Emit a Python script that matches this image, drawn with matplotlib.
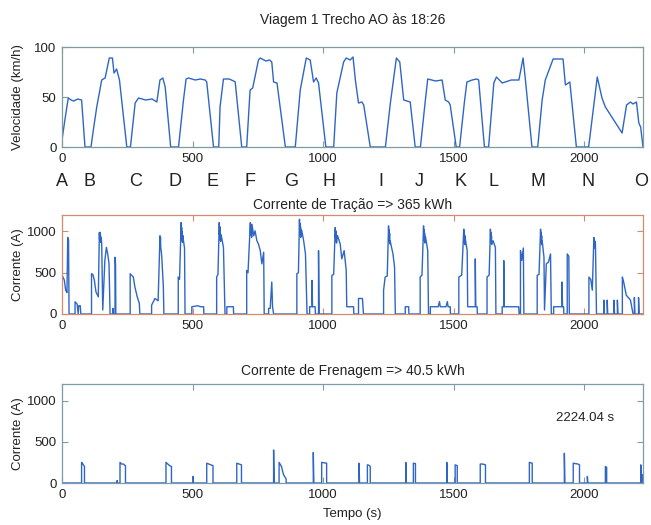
import matplotlib
matplotlib.use("Agg")
import matplotlib.pyplot as plt
import matplotlib.transforms as mtransforms

plt.rcParams['font.family'] = ['Liberation Sans', 'DejaVu Sans']

# ---------------- data ----------------
# speed profile (time s, km/h)
vel_points = [(0,7),(11,27),(24,49),(35,47),(45,46),(60,48),(75,47),(88,0),(111,0),(120,17),(133,40),
    (152,67),(165,69),(181,89),(193,89),(199,74),(209,78),(220,67),(248,0),(262,0),(280,44),(293,49),
    (320,47),(345,48),(363,45),(375,67),(386,69),(395,60),(416,0),(446,0),(465,47),(475,68),(484,69),
    (510,67),(530,68),(548,67),(554,65),(580,0),(600,0),(605,40),(618,68),(640,68),(657,66),(663,65),
    (688,0),(707,0),(720,57),(730,59),(752,87),(759,89),(780,86),(795,87),(803,85),(810,65),(823,64),
    (855,0),(893,0),(912,57),(935,89),(950,87),(963,65),(973,69),(982,64),(1010,0),(1040,0),(1052,54),
    (1078,85),(1088,89),(1103,87),(1114,90),(1123,67),(1135,44),(1148,45),(1155,42),(1180,0),(1238,0),
    (1257,44),(1280,89),(1293,85),(1308,47),(1333,45),(1352,0),(1372,0),(1391,47),(1400,68),(1430,66),
    (1455,67),(1467,47),(1480,45),(1486,42),(1509,0),(1522,0),(1540,44),(1550,65),(1570,67),(1588,68),
    (1595,67),(1617,0),(1633,0),(1653,64),(1663,70),(1685,64),(1720,67),(1749,67),(1765,89),(1774,67),
    (1799,0),(1821,0),(1838,47),(1850,67),(1880,88),(1918,88),(1927,62),(1944,65),(1969,0),(2016,0),
    (2049,70),(2067,49),(2080,40),(2144,14),(2161,42),(2176,45),(2186,43),(2199,45),(2208,24),(2215,20),
    (2224,0)]

# traction current (time s, A)
trac_points = [(0,0),(0,468),(5,440),(9,408),(14,288),(19,260),(22,928),(25,900),(27,0),
    (50,0),(50,148),(58,120),(62,0),(64,100),(70,100),(72,0),
    (113,0),(113,488),(118,480),(124,408),(130,268),(139,208),
    (143,988),(144,900),(145,990),(146,880),(147,960),(148,870),(150,930),(152,848),(156,48),
    (164,648),(170,808),(175,728),(180,608),(184,0),(195,0),(195,68),(197,0),(203,0),(203,688),(205,600),(206,0),
    (261,0),(261,488),(273,448),(279,328),(288,208),(296,128),(298,0),
    (343,0),(343,108),(356,188),(368,160),(375,948),(376,850),(377,930),(378,800),(380,760),(382,688),(388,328),(390,0),
    (445,0),(445,448),(450,420),(456,1108),(457,950),(458,1050),(459,900),(460,1000),(461,870),(463,950),
    (465,888),(469,800),(471,0),
    (497,0),(497,88),(520,100),(530,88),(542,88),(543,0),
    (592,0),(592,448),(597,480),(602,1108),(603,960),(604,1060),(605,900),(606,1000),(607,880),(609,960),
    (611,928),(618,808),(624,0),
    (631,0),(631,88),(656,88),(657,0),
    (707,0),(707,528),(712,500),(721,1108),(722,980),(723,1080),(724,950),(725,1050),(726,930),(727,1088),
    (734,948),(739,1008),(746,888),(752,848),(759,768),(765,608),(772,748),(774,0),
    (791,0),(791,68),(797,68),(803,388),(806,88),(810,0),
    (899,0),(899,488),(905,500),(909,1148),(910,1000),(911,1100),(912,960),(913,1060),(914,930),(916,1020),
    (918,1008),(925,888),(932,728),(938,0),
    (948,0),(948,88),(957,88),(957,408),(959,88),(969,88),(970,0),(982,0),(982,768),(984,0),
    (1033,0),(1033,468),(1040,480),(1046,1048),(1047,920),(1048,1010),(1049,880),(1050,980),(1051,860),
    (1053,950),(1055,948),(1065,848),(1071,668),(1080,768),(1088,528),
    (1090,88),(1116,88),(1117,0),(1135,0),(1135,188),(1150,188),(1154,0),
    (1231,0),(1231,288),(1237,448),(1245,460),(1250,1068),(1251,930),(1252,1020),(1253,880),(1254,980),
    (1255,850),(1256,888),(1267,728),(1273,568),(1276,0),
    (1314,0),(1314,88),(1327,88),(1328,0),
    (1371,0),(1371,448),(1378,470),(1384,1068),(1385,930),(1386,1020),(1387,890),(1388,980),(1389,860),
    (1391,940),(1394,888),(1400,768),(1403,0),
    (1410,0),(1410,88),(1440,88),(1445,150),(1448,88),(1470,88),(1475,150),(1478,88),(1486,88),(1487,0),
    (1519,0),(1519,448),(1530,470),(1538,1028),(1539,900),(1540,990),(1541,860),(1542,950),(1543,840),
    (1544,908),(1551,768),(1553,88),(1582,88),(1582,668),(1584,88),(1589,88),(1590,0),
    (1627,0),(1627,448),(1635,470),(1640,1028),(1641,900),(1642,990),(1643,860),(1644,950),(1645,840),
    (1650,888),(1659,808),(1661,0),
    (1685,0),(1685,88),(1691,88),(1691,648),(1693,88),(1748,88),(1750,0),
    (1755,0),(1755,768),(1760,650),(1766,800),(1768,0),
    (1819,0),(1819,468),(1826,480),(1832,1028),(1833,900),(1834,990),(1835,860),(1836,950),(1837,840),
    (1838,888),(1845,688),(1847,48),(1854,608),(1862,628),
    (1870,728),(1873,0),(1882,0),(1882,88),(1914,88),(1914,388),(1916,88),(1920,88),(1921,0),
    (1934,0),(1934,728),(1940,700),(1942,0),
    (2017,0),(2017,448),(2024,420),(2030,288),(2036,928),(2037,820),(2038,900),(2039,800),(2040,880),
    (2042,848),(2046,0),
    (2074,0),(2074,168),(2076,0),(2087,0),(2087,168),(2089,0),(2113,0),(2113,168),(2115,0),
    (2126,0),(2126,168),(2128,0),
    (2145,0),(2145,448),(2150,388),(2160,228),(2176,168),(2186,0),
    (2191,0),(2191,200),(2193,0),(2207,0),(2207,200),(2209,0),(2224,0)]

# braking current (time s, A)
brake_points = [(0,0),(75,0),(75,250),(78,240),(82,220),(86,200),(86,0),
    (211,0),(211,30),(212,0),(222,0),(222,250),(228,230),(235,230),(238,220),(243,210),(243,0),
    (398,0),(398,250),(405,230),(412,210),(419,200),(419,0),(502,0),(502,80),(503,0),
    (554,0),(554,240),(562,230),(570,220),(578,210),(578,0),
    (669,0),(669,240),(678,230),(687,220),(687,0),(810,0),(810,400),(812,0),
    (831,0),(831,250),(840,200),(848,100),(858,50),(858,0),(962,0),(962,370),(964,0),
    (994,0),(994,250),(1003,245),(1013,240),(1013,0),(1137,0),(1137,240),(1139,0),
    (1169,0),(1169,220),(1175,215),(1180,200),(1180,0),(1316,0),(1316,250),(1318,0),
    (1345,0),(1345,240),(1353,235),(1353,0),(1473,0),(1473,250),(1475,0),
    (1505,0),(1505,220),(1513,210),(1513,0),(1601,0),(1601,230),(1610,230),(1621,220),(1621,0),
    (1789,0),(1789,250),(1800,240),(1800,0),(1923,0),(1923,360),(1925,0),
    (1957,0),(1957,240),(1965,235),(1975,230),(1981,220),(1981,0),(2011,0),(2011,80),(2013,0),
    (2080,0),(2080,200),(2085,190),(2085,0),(2216,0),(2216,220),(2218,0),(2222,0),(2222,100),(2224,100)]

station_labels = ['A','B','C','D','E','F','G','H','I','J','K','L','M','N','O']
station_times = [0, 107, 280, 433, 578, 720, 876, 1021, 1220, 1366, 1527, 1650, 1822, 2013, 2218]

title_top = 'Viagem 1 Trecho AO às 18:26'
title_mid = 'Corrente de Tração => 365 kWh'
title_bot = 'Corrente de Frenagem => 40.5 kWh'
t_end = 2224.04
x_ticks = [0, 500, 1000, 1500, 2000]

# ---------------- figure ----------------
fig = plt.figure(figsize=(6.51, 5.25), dpi=100)
W, H = 651, 525
def rect(l, t, r, b):
    return [l / W, 1 - b / H, (r - l) / W, (b - t) / H]

ax1 = fig.add_axes(rect(62, 47, 643, 147))
ax2 = fig.add_axes(rect(62, 215, 643, 314))
ax3 = fig.add_axes(rect(62, 384, 643, 483))

line_col = '#2f66c6'
txt_col = '#222222'
fs = 9.5

def style(ax, frame_col, yticks, ylim):
    ax.set_xlim(0, t_end)
    ax.set_ylim(*ylim)
    ax.set_xticks(x_ticks)
    ax.set_yticks(yticks)
    ax.tick_params(direction='in', length=4, width=0.8, top=True, right=True,
                   labelsize=fs, colors=frame_col, labelcolor=txt_col, pad=4)
    for s in ax.spines.values():
        s.set_color(frame_col)
        s.set_linewidth(0.9)

vt, vv = zip(*vel_points)
ax1.plot(vt, vv, color=line_col, lw=1.0)
style(ax1, '#7f9c9c', [0, 50, 100], (0, 100))
ax1.set_ylabel('Velocidade (km/h)', fontsize=fs, color=txt_col)
ax1.yaxis.set_label_coords(-0.066, 0.5)
ax1.text(0.5, 1.27, title_top, transform=ax1.transAxes, ha='center', va='center',
         fontsize=10, color=txt_col)
trans = mtransforms.blended_transform_factory(ax1.transData, ax1.transAxes)
for lab, tt in zip(station_labels, station_times):
    ax1.text(tt, -0.35, lab, transform=trans, ha='center', va='center', fontsize=13, color=txt_col)

tt_, ti = zip(*trac_points)
ax2.plot(tt_, ti, color=line_col, lw=1.0)
style(ax2, '#d48c70', [0, 500, 1000], (0, 1200))
ax2.set_ylabel('Corrente (A)', fontsize=fs, color=txt_col)
ax2.yaxis.set_label_coords(-0.066, 0.5)
ax2.text(0.5, 1.10, title_mid, transform=ax2.transAxes, ha='center', va='center',
         fontsize=10, color=txt_col)

bt, bi = zip(*brake_points)
ax3.plot(bt, bi, color=line_col, lw=1.0)
style(ax3, '#7c9cac', [0, 500, 1000], (0, 1200))
ax3.set_ylabel('Corrente (A)', fontsize=fs, color=txt_col)
ax3.yaxis.set_label_coords(-0.066, 0.5)
ax3.text(0.5, 1.13, title_bot, transform=ax3.transAxes, ha='center', va='center',
         fontsize=10, color=txt_col)
ax3.text(1890, 790, f'{t_end:.2f} s', ha='left', va='center', fontsize=fs, color=txt_col)
ax3.set_xlabel('Tempo (s)', fontsize=fs, color=txt_col, labelpad=5)

fig.savefig('out.png', dpi=100)
